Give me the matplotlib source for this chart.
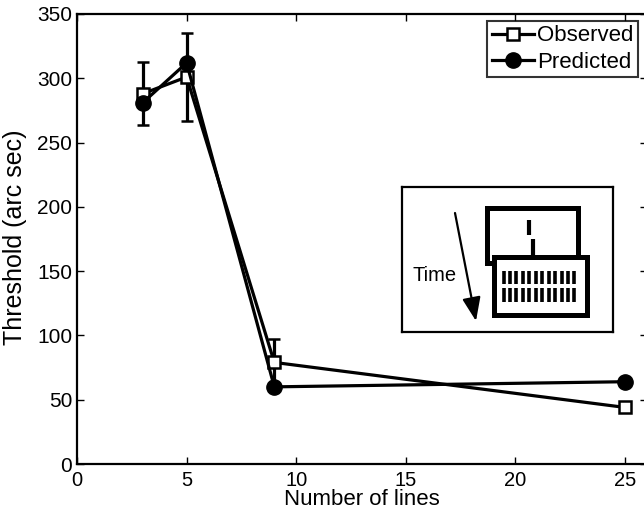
import matplotlib
matplotlib.use('Agg')
import matplotlib.pyplot as plt
from matplotlib.patches import Rectangle

plt.rcParams['font.family'] = ['Liberation Sans', 'DejaVu Sans']

# data
n_lines = [3, 5, 9, 25]
observed = [288, 301, 79, 44]
observed_err = [24.5, 34, 18, 0]
predicted = [281, 312, 60, 64]

fig = plt.figure(figsize=(6.44, 5.16), dpi=100)
ax = fig.add_axes([77 / 644, 1 - 464 / 516, 570 / 644, 450 / 516])

obs = ax.errorbar(n_lines, observed, yerr=observed_err, color='black', linewidth=2.3,
                  elinewidth=2.3, capsize=4, capthick=2.3, marker='s', markersize=8,
                  markerfacecolor='white', markeredgecolor='black', markeredgewidth=1.8,
                  zorder=3)
pred, = ax.plot(n_lines, predicted, color='black', linewidth=2.3, marker='o', markersize=11,
                markerfacecolor='black', zorder=4)

ax.set_xlim(0, 26)
ax.set_ylim(0, 350)
ax.set_xticks([0, 5, 10, 15, 20, 25])
ax.set_yticks(range(0, 351, 50))
ax.tick_params(direction='in', length=5, width=1, top=True, right=True)
ax.tick_params(axis='x', pad=5, labelsize=14.5)
ax.tick_params(axis='y', pad=3.5, labelsize=15)
for s in ax.spines.values():
    s.set_linewidth(1.6)
ax.set_xlabel('Number of lines', fontsize=16)
ax.set_ylabel('Threshold (arc sec)', fontsize=18)
ax.xaxis.set_label_coords(0.5, (464 - 489) / 450)
ax.yaxis.label.set_va('center')
ax.yaxis.set_label_coords((15 - 77) / 570, (464 - 237) / 450)

leg = ax.legend([obs[0], pred], ['Observed', 'Predicted'], loc='upper right',
                bbox_to_anchor=(638 / 644, 1 - 21 / 516), bbox_transform=fig.transFigure,
                fontsize=16, frameon=True, fancybox=False, handlelength=1.9,
                handletextpad=0.15, borderpad=0.2, labelspacing=0.25, borderaxespad=0)
leg.get_frame().set_edgecolor('black')
leg.get_frame().set_linewidth(1.5)

# inset pictogram, drawn in pixel coordinates of the figure
ins = fig.add_axes([402 / 644, 1 - 332 / 516, 211 / 644, 145 / 516])
ins.set_xlim(402, 613)
ins.set_ylim(332, 187)
ins.set_xticks([])
ins.set_yticks([])
for s in ins.spines.values():
    s.set_linewidth(1.6)

ins.add_patch(Rectangle((486.5, 207.5), 91, 55, fill=False, linewidth=3.6, edgecolor='black'))
ins.plot([529, 529], [220, 235], color='black', linewidth=3, solid_capstyle='butt')
ins.plot([533, 533], [239, 256], color='black', linewidth=3, solid_capstyle='butt')
ins.add_patch(Rectangle((493.5, 256.5), 93, 58, facecolor='white', linewidth=3.6,
                        edgecolor='black', zorder=3))
for row in [(271, 284), (288, 302)]:
    for i in range(12):
        x = 503.5 + i * 6.45
        ins.plot([x, x], row, color='black', linewidth=2.6, solid_capstyle='butt', zorder=4)
ins.annotate('', xy=(476, 321), xytext=(455, 213),
             arrowprops=dict(arrowstyle='-|>,head_length=0.9,head_width=0.35',
                             mutation_scale=16, linewidth=1.6, color='black',
                             shrinkA=0, shrinkB=0))
ins.text(435, 275, 'Time', fontsize=14.5, ha='center', va='center')

fig.savefig('out.png', dpi=100)
